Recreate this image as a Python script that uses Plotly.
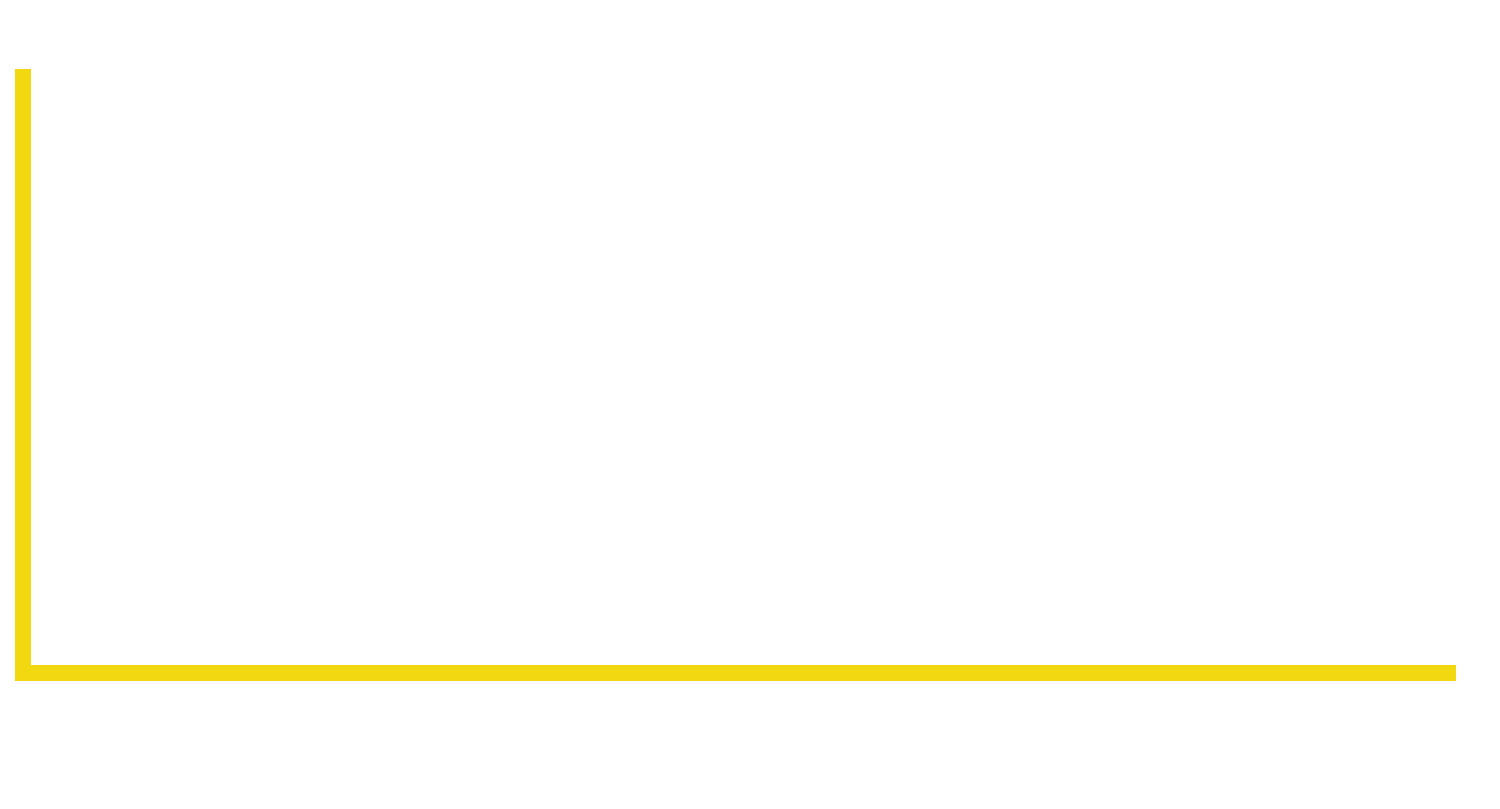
import plotly.graph_objects as go

# The chart shows only its axes, no marks are visible
x_values = []
y_values = []

AXIS_COLOR = "#f2d811"

fig = go.Figure()
fig.add_scatter(x=x_values, y=y_values, mode="lines", showlegend=False)

axis_style = dict(
    showline=True,
    linecolor=AXIS_COLOR,
    linewidth=16,
    showgrid=False,
    zeroline=False,
    showticklabels=False,
    ticks="",
)

fig.update_layout(
    width=1500,
    height=809,
    margin=dict(l=23, r=52, t=61, b=152),
    paper_bgcolor="white",
    plot_bgcolor="white",
    xaxis=axis_style,
    yaxis=axis_style,
    showlegend=False,
)

fig.write_html("out.html")
